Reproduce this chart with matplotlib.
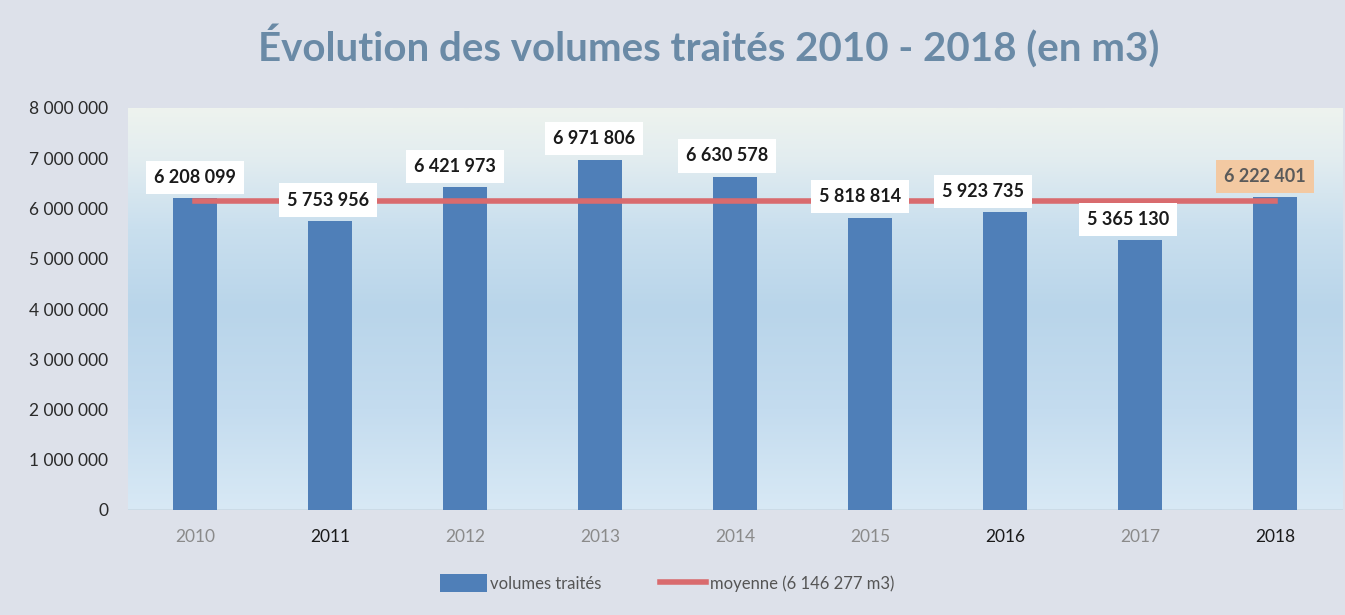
import numpy as np
import matplotlib.pyplot as plt
from matplotlib.colors import LinearSegmentedColormap
from matplotlib.ticker import FuncFormatter

plt.rcParams['font.family'] = ['Lato', 'DejaVu Sans']

years = ['2010', '2011', '2012', '2013', '2014', '2015', '2016', '2017', '2018']
volumes = [6208099, 5753956, 6421973, 6971806, 6630578, 5818814, 5923735, 5365130, 6222401]
moyenne = 6146277
yticks = [0, 1000000, 2000000, 3000000, 4000000, 5000000, 6000000, 7000000, 8000000]

def fmt(v):
    return f'{int(v):,}'.replace(',', ' ')

fig = plt.figure(figsize=(13.45, 6.15), dpi=100)
fig.patch.set_facecolor('#dde1ea')
ax = fig.add_axes([127.5 / 1345, 105 / 615, 1215 / 1345, 402 / 615])

x = np.arange(len(years))
ax.set_xlim(-0.5, len(years) - 0.5)
ax.set_ylim(0, 8000000)

# background gradient of the plot area
cmap = LinearSegmentedColormap.from_list('bg', [
    (0.0, '#d8e9f5'), (0.25, '#c4dcef'), (0.5, '#b9d5ea'),
    (0.7, '#c9dfee'), (0.88, '#e3edf0'), (1.0, '#eef3ee')])
grad = np.linspace(0, 1, 256).reshape(-1, 1)
ax.imshow(grad, cmap=cmap, aspect='auto', origin='lower',
          extent=[-0.5, len(years) - 0.5, 0, 8000000], zorder=0)

bars = ax.bar(x, volumes, width=0.33, color='#4f7fb8', zorder=2, label='volumes traités')
line, = ax.plot(x, [moyenne] * len(x), color='#d96b6e', lw=4, zorder=3,
                label=f'moyenne ({fmt(moyenne)} m3)')

dx = [0, -2, -10, -6, -8, -10, -22, -12, -10]
for i, v in enumerate(volumes):
    last = i == len(volumes) - 1
    ax.annotate(fmt(v), (x[i], v), xytext=(dx[i] * 0.72, 15), textcoords='offset points',
                ha='center', va='center', fontsize=13, fontweight='bold',
                color='#5a5a5a' if last else '#1a1a1a', zorder=5,
                bbox=dict(boxstyle='square,pad=0.45',
                          fc='#f3c9a2' if last else 'white', ec='none'))

ax.axhline(0, color='#9aa3ad', lw=1, zorder=1)

ax.set_yticks(yticks)
ax.yaxis.set_major_formatter(FuncFormatter(lambda v, p: fmt(v)))
ax.set_xticks(x)
ax.set_xticklabels(years)
ax.tick_params(axis='y', length=0, pad=14, labelsize=12.5, labelcolor='#2a2a2a')
ax.tick_params(axis='x', length=0, pad=14, labelsize=12.5)
for i, lab in enumerate(ax.get_xticklabels()):
    if years[i] in ('2011', '2016', '2018'):
        lab.set_color('#1a1a1a')
    else:
        lab.set_color('#8a8a8a')
for s in ax.spines.values():
    s.set_visible(False)

fig.text(0.527, 0.925, 'Évolution des volumes traités 2010 - 2018 (en m3)',
         ha='center', va='center', fontsize=29, fontweight='bold', color='#6a8aa6')

fig.legend([bars, line], [bars.get_label(), line.get_label()],
           loc='center', bbox_to_anchor=(0.496, 0.052), ncol=2, frameon=False,
           fontsize=12, labelcolor='#555555', handlelength=2.8, handleheight=1.2,
           handletextpad=0.2, columnspacing=3.5)

fig.savefig('out.png', dpi=100, facecolor=fig.get_facecolor())
